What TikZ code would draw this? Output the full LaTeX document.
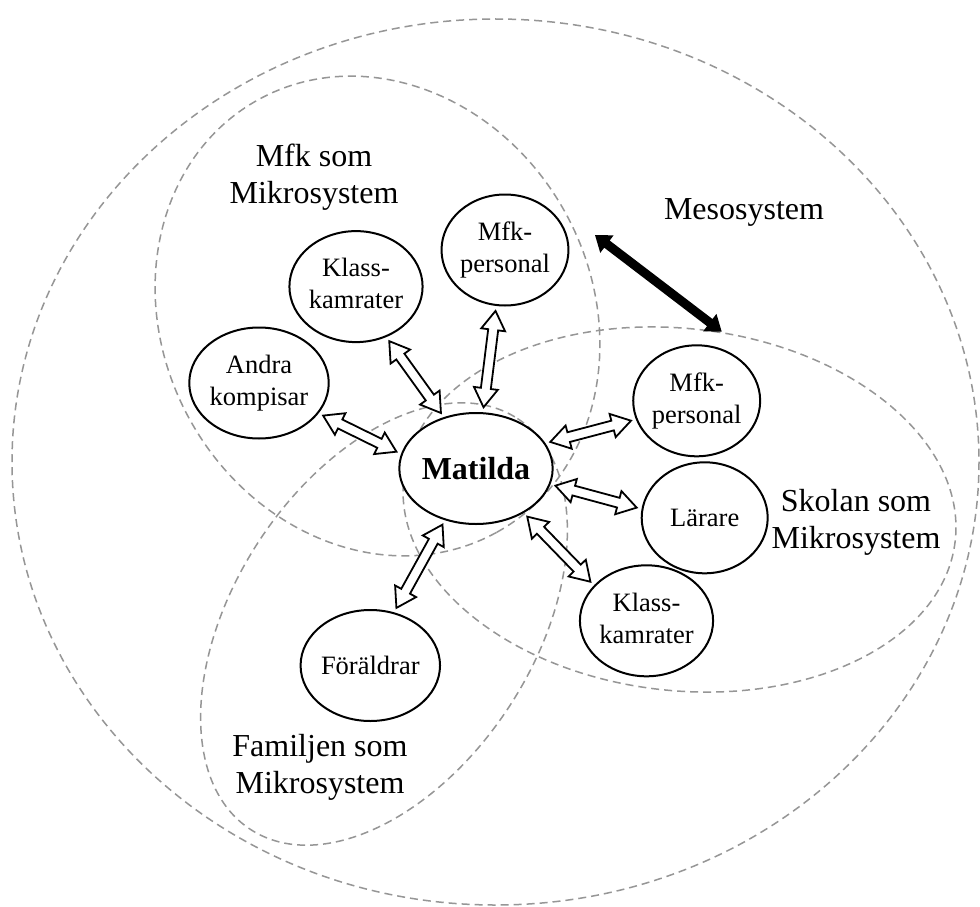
\documentclass[tikz,border=0pt]{standalone}
\usepackage{fontspec}
\setmainfont{Liberation Serif}
\usetikzlibrary{calc,shapes.geometric}

\definecolor{zonegray}{RGB}{150,150,150}

% Block arrow with a head at both ends, drawn as one closed outline.
% #1 style, #2 start, #3 end, #4 gap at each end,
% #5 head length, #6 head half width, #7 shaft half width
\newcommand{\blockarrow}[7]{%
  \coordinate (ba-s) at ($(#2)!#4!(#3)$);
  \coordinate (ba-e) at ($(#3)!#4!(#2)$);
  \path[#1] (ba-s)
    -- ($(ba-s)!#5!(ba-e)!#6!90:(ba-e)$)
    -- ($(ba-s)!#5!(ba-e)!#7!90:(ba-e)$)
    -- ($(ba-e)!#5!(ba-s)!#7!-90:(ba-s)$)
    -- ($(ba-e)!#5!(ba-s)!#6!-90:(ba-s)$)
    -- (ba-e)
    -- ($(ba-e)!#5!(ba-s)!#6!90:(ba-s)$)
    -- ($(ba-e)!#5!(ba-s)!#7!90:(ba-s)$)
    -- ($(ba-s)!#5!(ba-e)!#7!-90:(ba-e)$)
    -- ($(ba-s)!#5!(ba-e)!#6!-90:(ba-e)$)
    -- cycle;
}
\newcommand{\linkarrow}[2]{\blockarrow{linkshape}{#1}{#2}{5pt}{19pt}{12pt}{5pt}}

\begin{document}
\begin{tikzpicture}[x=1pt,y=-1pt,
  zone/.style={draw=zonegray, line width=1.5pt, dash pattern=on 8pt off 5pt},
  person/.style={ellipse, draw, line width=2pt, fill=white,
    minimum width=126pt, minimum height=111pt, inner sep=0pt,
    align=center, font=\fontsize{26.5}{32}\selectfont},
  zonelabel/.style={align=center, inner sep=0pt, font=\fontsize{32}{37}\selectfont},
  linkshape/.style={draw, fill=white, line width=1.8pt, line join=miter},
  mesoshape/.style={fill=black}
]
\useasboundingbox (0,0) rectangle (980,907);
\fill[white] (0,0) rectangle (980,907);

% Mesosystem and the three microsystems
\draw[zone] (495.5,462) ellipse [x radius=483.5, y radius=443];
\draw[zone, rotate around={-61.2:(377.5,316)}] (377.5,316) ellipse [x radius=247, y radius=214.4];
\draw[zone, rotate around={-6.5:(679.5,509.5)}] (679.5,509.5) ellipse [x radius=277.5, y radius=181];
\draw[zone, rotate around={57:(384,624)}] (384,624) ellipse [x radius=245, y radius=150];

% People
\node[person] (mat) at (476,468.5) {\fontsize{32}{37}\selectfont\bfseries Matilda};
\node[person] (mfkA) at (505,250) {Mfk-\\personal};
\node[person] (klassA) at (356,286.6) {Klass-\\kamrater\vphantom{p}};
\node[person] (andra) at (259,383) {Andra\\kompisar};
\node[person] (mfkB) at (696.7,400.8) {Mfk-\\personal};
\node[person] (lar) at (704.7,517.8) {Lärare};
\node[person] (klassB) at (646.5,620.8) {Klass-\\kamrater\vphantom{p}};
\node[person] (for) at (370.3,665.5) {Föräldrar};

% System labels
\node[zonelabel] (mfk-lbl) at (314,177.6) {Mfk som\\Mikrosystem};
\node[zonelabel] (meso-lbl) at (744,212.5) {Mesosystem};
\node[zonelabel] (skolan-lbl) at (856,522.7) {Skolan som\\Mikrosystem};
\node[zonelabel] (familj-lbl) at (320,767.7) {Familjen som\\Mikrosystem};

% Relations around Matilda
\linkarrow{mat.83}{mfkA.-99}
\linkarrow{mat.122}{klassA.-59}
\linkarrow{andra.-27}{mat.169}
\linkarrow{mat.20}{mfkB.-163}
\linkarrow{mat.-12}{lar.172}
\linkarrow{mat.-43}{klassB.146}
\linkarrow{mat.-121}{for.66}

% Link between the microsystems
\coordinate (meso-a) at (595,235);
\coordinate (meso-b) at (721.7,331.7);
\blockarrow{mesoshape}{meso-a}{meso-b}{0pt}{15pt}{11pt}{4.5pt}
\end{tikzpicture}
\end{document}
